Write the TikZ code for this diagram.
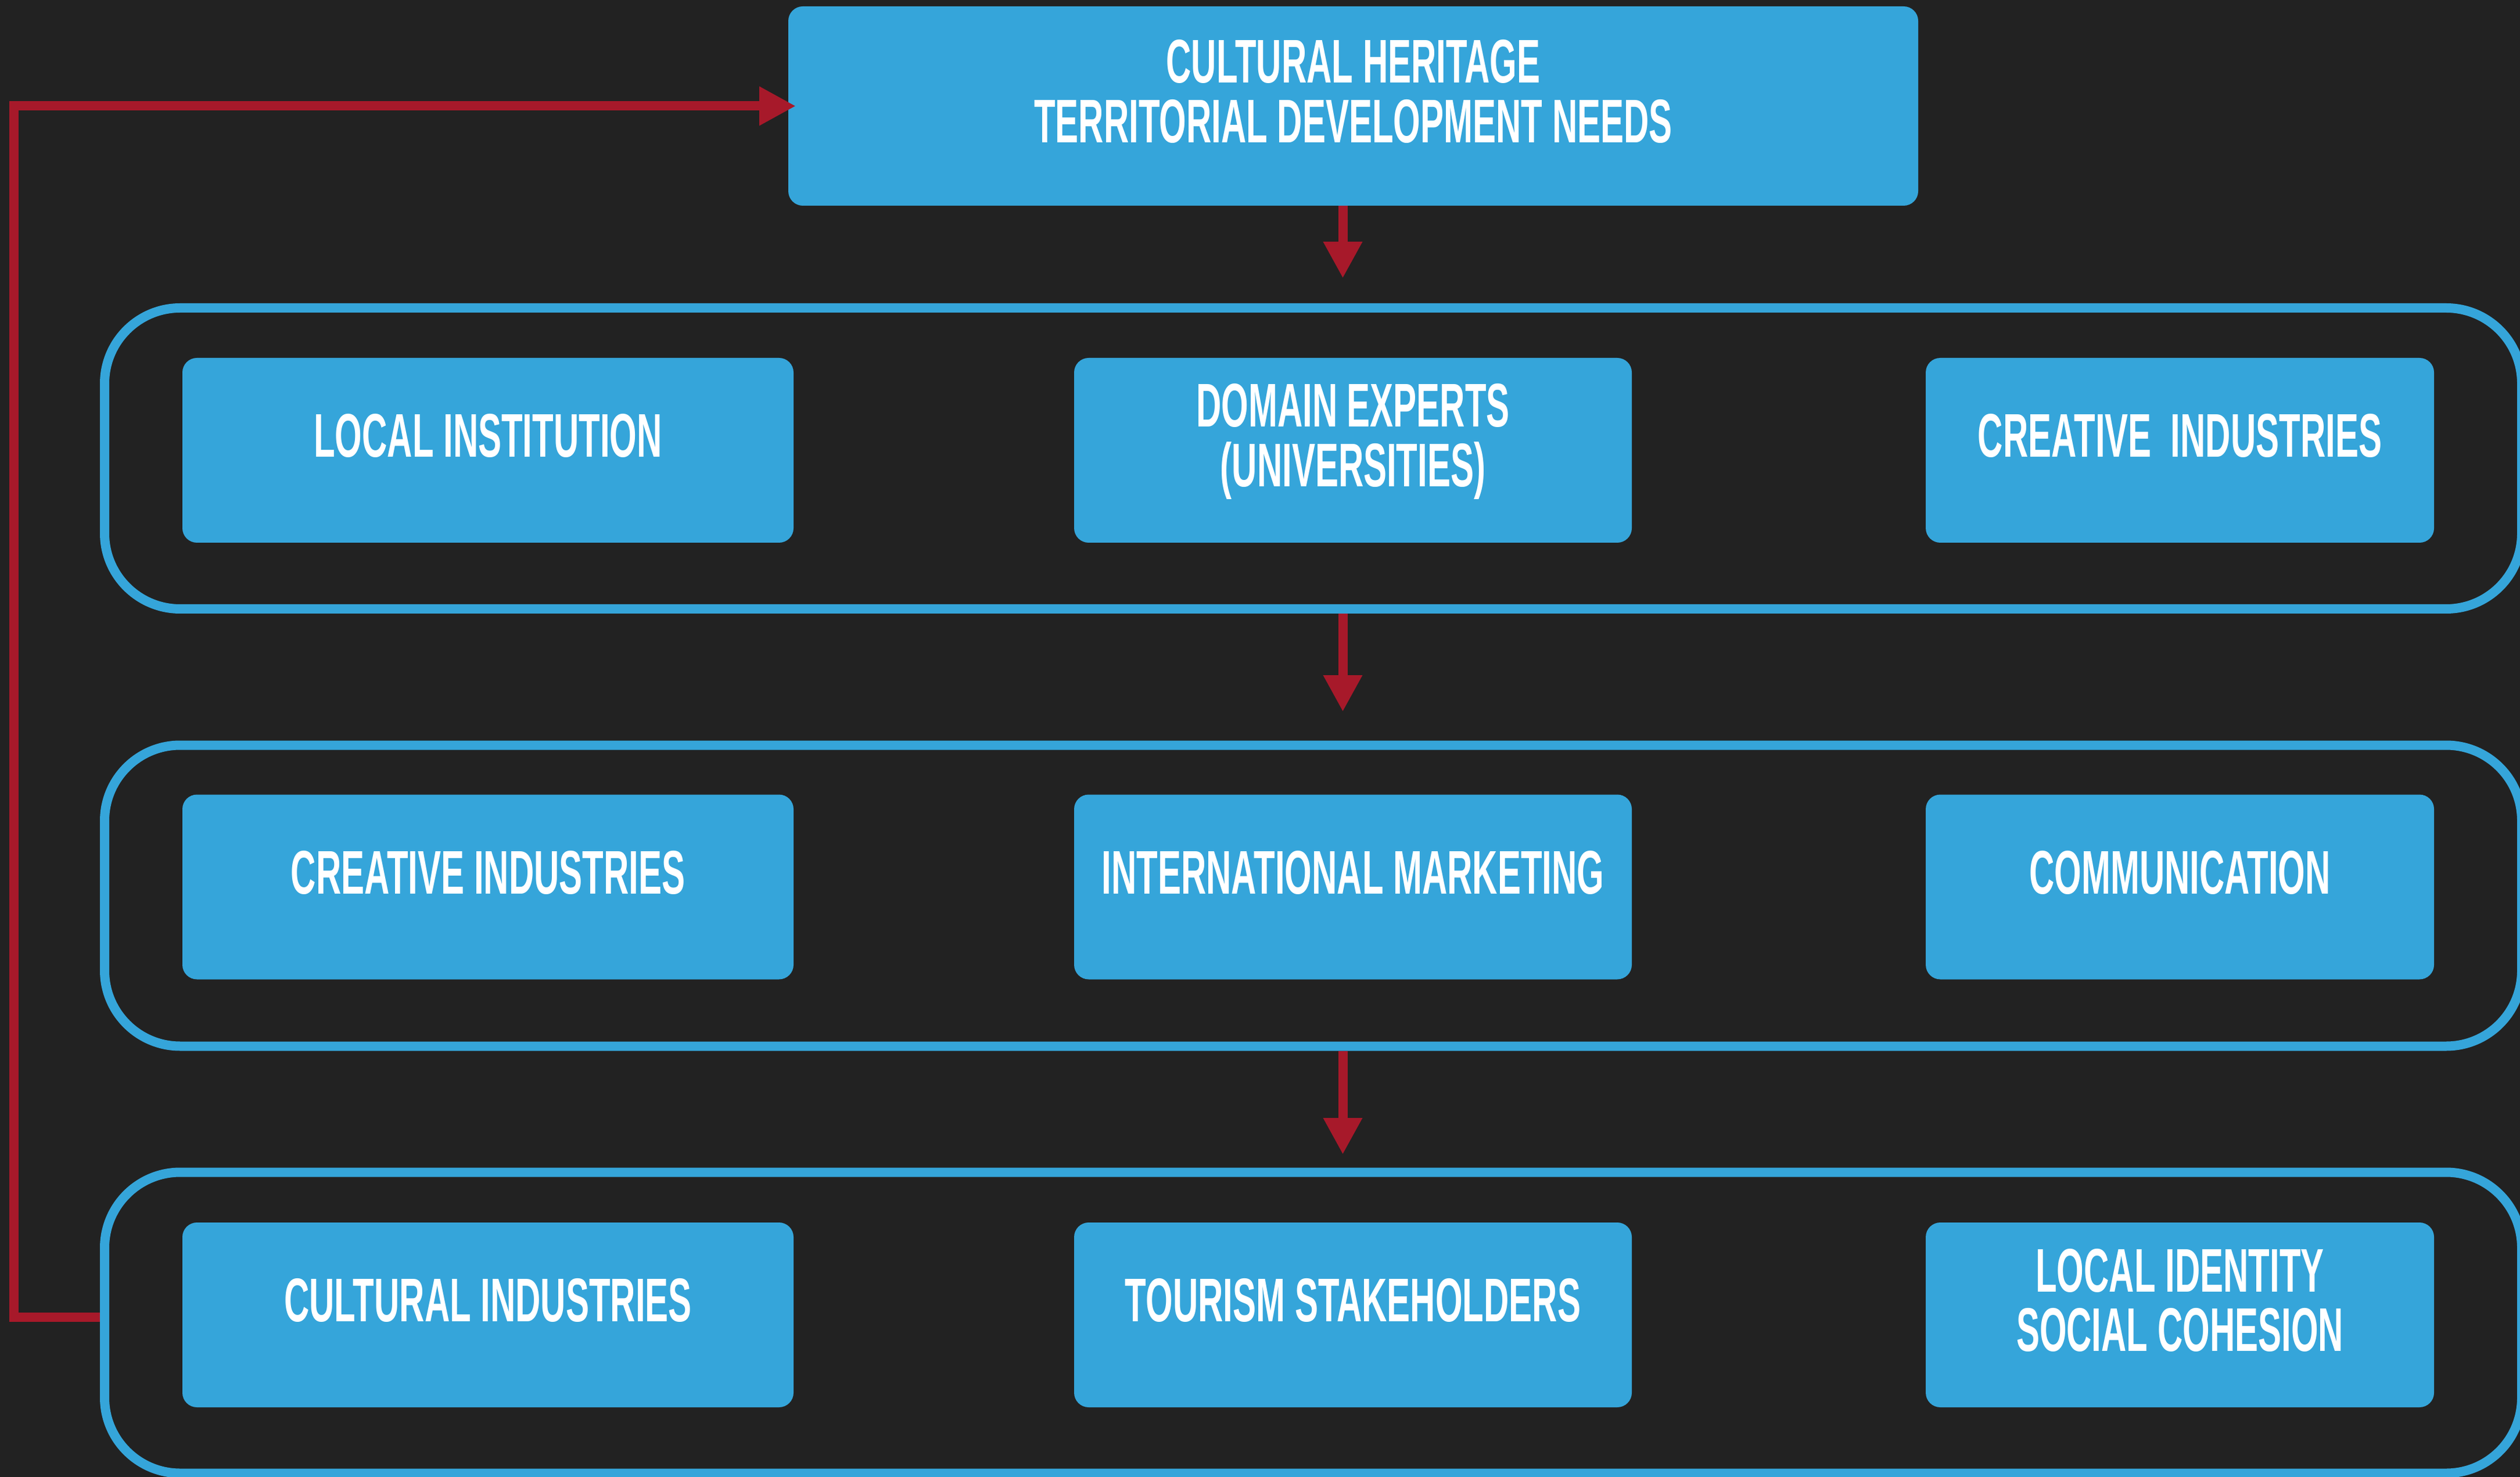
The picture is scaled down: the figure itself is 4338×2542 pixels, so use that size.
\documentclass[tikz,border=0pt]{standalone}
\usepackage{fontspec}
\newfontfamily\dinfont{Liberation Sans}[FakeStretch=0.565]
\usetikzlibrary{arrows.meta}
\definecolor{bgc}{RGB}{34,34,34}
\definecolor{boxblue}{RGB}{53,165,218}
\definecolor{arrred}{RGB}{167,25,42}
\begin{document}
\begin{tikzpicture}[x=0.1mm,y=-0.1mm,
  box/.style={fill=boxblue, rounded corners=2.5mm, inner sep=0pt, outer sep=0pt},
  grp/.style={draw=boxblue, line width=1.6mm, rounded corners=13mm, inner sep=0pt, minimum width=416.1mm, minimum height=51.8mm},
  lbl/.style={text=white, font={\dinfont\bfseries\fontsize{30.2pt}{29.2pt}\selectfont}, align=center, inner sep=0pt},
  flow/.style={draw=arrred, line width=1.6mm, line join=miter, -{Triangle[length=6.3mm,width=6.3mm]}},
  rowone/.style={minimum height=31.8mm},
  colL/.style={minimum width=105.2mm},
  colM/.style={minimum width=96mm},
  colR/.style={minimum width=87.5mm}]
\useasboundingbox (0,0) rectangle (4338,2542);
\fill[bgc] (0,0) rectangle (4338,2542);

% group frames
\node[grp] (f1) at (2260.5,789) {};
\node[grp] (f2) at (2260.5,1541.5) {};
\node[grp] (f3) at (2260.5,2276.5) {};

% top box
\node[box, minimum width=194.5mm, minimum height=34.3mm] (top) at (2329.5,182.5) {};
\node[lbl] (toptxt) at ([yshift=2.5mm]top.center) {CULTURAL HERITAGE\\TERRITORIAL DEVELOPMENT NEEDS};

% row 1
\node[box, rowone, colL] (b11) at (840,775) {};
\node[box, rowone, colM] (b12) at (2329,775) {};
\node[box, rowone, colR] (b13) at (3752.5,775) {};
\node[lbl] (t11) at ([yshift=2.5mm]b11.center) {LOCAL INSTITUTION};
\node[lbl] (t12) at ([yshift=1.5mm]b12.center) {DOMAIN EXPERTS\\(UNIVERSITIES)};
\node[lbl] (t13) at ([yshift=2.5mm]b13.center) {CREATIVE\ \ INDUSTRIES};

% row 2
\node[box, rowone, colL] (b21) at (840,1526.5) {};
\node[box, rowone, colM] (b22) at (2329,1526.5) {};
\node[box, rowone, colR] (b23) at (3752.5,1526.5) {};
\node[lbl] (t21) at ([yshift=2.5mm]b21.center) {CREATIVE INDUSTRIES};
\node[lbl] (t22) at ([yshift=2.5mm]b22.center) {INTERNATIONAL MARKETING};
\node[lbl] (t23) at ([yshift=2.5mm]b23.center) {COMMUNICATION};

% row 3
\node[box, rowone, colL] (b31) at (840,2263) {};
\node[box, rowone, colM] (b32) at (2329,2263) {};
\node[box, rowone, colR] (b33) at (3752.5,2263) {};
\node[lbl] (t31) at ([yshift=2.5mm]b31.center) {CULTURAL INDUSTRIES};
\node[lbl] (t32) at ([yshift=2.5mm]b32.center) {TOURISM STAKEHOLDERS};
\node[lbl] (t33) at ([yshift=2.5mm]b33.center) {LOCAL IDENTITY\\SOCIAL COHESION};

% arrow tips
\coordinate (a1) at (2311.5,479);
\coordinate (a2) at (2311.5,1225);
\coordinate (a3) at (2311.5,1987);
\coordinate (fb) at (24,183);

\draw[flow] (a1 |- top.south) -- (a1);
\draw[flow] (a2 |- f1.south) -- (a2);
\draw[flow] (a3 |- f2.south) -- (a3);
\draw[flow, shorten >=-1.3mm] ([yshift=0.95mm]f3.west) -| (fb) |- (top.west);
\end{tikzpicture}
\end{document}
